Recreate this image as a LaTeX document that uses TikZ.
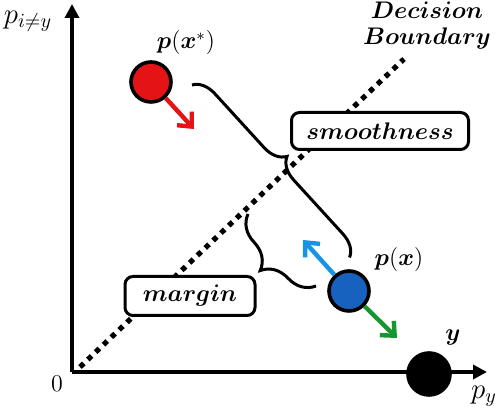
\documentclass[tikz,border=0pt]{standalone}
\usepackage{amsmath,amssymb}
\usepackage{bm}
\usetikzlibrary{positioning,calc,arrows.meta,decorations.pathreplacing}

\definecolor{ptred}{RGB}{228,20,22}
\definecolor{ptblue}{RGB}{22,98,190}
\definecolor{arrblue}{RGB}{24,148,228}
\definecolor{arrgreen}{RGB}{22,150,48}

\begin{document}
\begin{tikzpicture}[x=0.5pt,y=0.5pt,
	axis/.style={line width=2pt,-{Triangle[length=7pt,width=7pt]}},
	pt/.style={circle,draw=black,line width=1.8pt,minimum size=20pt,inner sep=0pt},
	move/.style={line width=2.2pt,-{Straight Barb[length=5.5pt,width=10pt,line width=2.2pt]}},
	lbl/.style={font=\large},
	tagbox/.style={draw,line width=1.5pt,rounded corners=4pt,fill=white,font=\large,inner sep=0pt},
	brc/.style={line width=1.5pt,decorate,decoration={brace,amplitude=#1}}]
	\useasboundingbox (0,0) rectangle (498,410);
		% axes
		\coordinate (o) at (72,38);
		\coordinate (ytop) at (72,406);
		\coordinate (xend) at (487,38);
		\draw[axis] (o) -- (ytop);
		\draw[axis] (o) -- (xend);
		\node[lbl] (zero) at (57,26) {$0$};
		\node[font=\Large] (pi) at (28,389) {$p_{i\neq y}$};
		\node[font=\Large] (py) at (484,14) {$p_y$};
		% decision boundary
		\coordinate (db1) at (80,43);
		\coordinate (db2) at (404,351);
		\draw[line width=2.6pt,dash pattern=on 2.6pt off 2.8pt] (db1) -- (db2);
		\node[font=\fontsize{12.5}{14}\selectfont,align=center,inner sep=0pt] (dbtxt) at (427,384) {$\bm{Decision}$\\[-1pt]$\bm{Boundary}$};
		% boxes
		\node[tagbox,minimum width=88.5pt,minimum height=18.5pt] (smbox) at (380,279) {};
		\node[lbl] (smtxt) at (smbox) {$\bm{smoothness}$};
		\node[tagbox,minimum width=65pt,minimum height=19.5pt] (mgbox) at (190,114) {};
		\node[lbl] (mgtxt) at (mgbox) {$\bm{margin}$};
		% points
		\node[pt,fill=ptred] (xadv) at (151,328) {};
		\node[pt,fill=ptblue] (x) at (349,119) {};
		\node[pt,fill=black,minimum size=21pt] (y) at (429,36) {};
		\node[lbl] (xadvlbl) at (186,367) {$\bm{p}(\bm{x}^{*})$};
		\node[lbl] (xlbl) at (399,150) {$\bm{p}(\bm{x})$};
		\node[lbl] (ylbl) at (453,72) {$\bm{y}$};
		% moves
		\coordinate (redtip) at (194,281);
		\coordinate (bluetip) at (303,170);
		\coordinate (greentip) at (397,72);
		\draw[move,ptred] (xadv) -- (redtip);
		\draw[move,arrblue] (x) -- (bluetip);
		\draw[move,arrgreen] (x) -- (greentip);
		% braces
		\coordinate (sm1) at (192,325);
		\coordinate (sm2) at (350,152);
		\coordinate (mg1) at (316,124);
		\coordinate (mg2) at (248,196);
		\draw[brc=11pt] (sm1) -- (sm2);
		\draw[brc=15pt] (mg1) -- (mg2);
	\end{tikzpicture}
\end{document}
